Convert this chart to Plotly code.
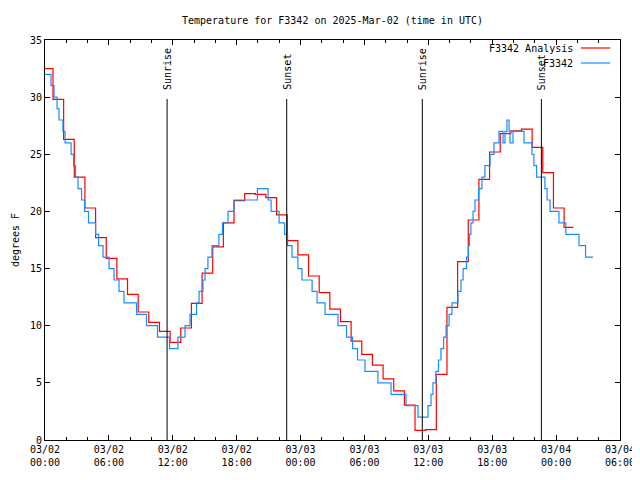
import pandas as pd
import plotly.graph_objects as go

# ---------------- data ----------------
title_text = "Temperature for F3342 on 2025-Mar-02 (time in UTC)"
base_time = pd.Timestamp("2025-03-02 00:00")

# Analysis: hourly values (hour 0 .. hour 49), each valid from HH-1:45
analysis_name = "F3342 Analysis"
analysis_values = [
    32.5, 29.8, 26.3, 23.0, 20.3, 17.7, 15.9, 14.1, 12.75, 11.2,
    10.3, 9.5, 8.55, 9.8, 11.95, 14.6, 16.9, 19.0, 20.95, 21.55,
    21.5, 21.2, 19.7, 17.45, 16.2, 14.35, 12.9, 11.45, 10.35, 8.65,
    7.5, 6.55, 5.35, 4.3, 3.05, 0.85, 0.9, 5.75, 11.6, 15.6,
    19.25, 22.8, 25.2, 26.8, 27.05, 27.2, 25.6, 23.4, 20.3, 18.6,
]
analysis_minutes = [0] + [(h - 1) * 60 + 45 for h in range(1, len(analysis_values))]
analysis_end_minute = 2976

# Observations: minutes after 2025-03-02 00:00 when the reading changed, and the reading
obs_name = "F3342"
obs_minutes = [
    0, 34, 51, 68, 79, 101, 113, 147, 161, 172, 186, 206, 223, 245, 285, 302,
    327, 361, 389, 417, 445, 516, 572, 634, 702, 749, 789, 817, 854, 868, 890,
    902, 918, 941, 980, 1000, 1031, 1065, 1197, 1257, 1274, 1319, 1350, 1367,
    1392, 1425, 1448, 1505, 1533, 1578, 1651, 1699, 1733, 1761, 1803, 1876,
    1950, 2034, 2102, 2158, 2175, 2186, 2203, 2217, 2231, 2246, 2260, 2277,
    2293, 2327, 2344, 2356, 2375, 2386, 2392, 2400, 2412, 2423, 2443, 2462,
    2479, 2508, 2530, 2558, 2581, 2592, 2603, 2615, 2620, 2637, 2699, 2744,
    2755, 2770, 2817, 2829, 2846, 2896, 2935, 3009, 3046, 3088,
]
obs_values = [
    32, 31, 30, 29, 28, 27, 26, 25, 24, 23, 22, 21, 20, 19, 18, 17,
    16, 15, 14, 13, 12, 11, 10, 9, 8, 9, 10, 11, 12, 13, 14,
    15, 16, 17, 18, 19, 20, 21, 22, 21, 20, 19, 18, 17,
    16, 15, 14, 13, 12, 11, 10, 9, 8, 7, 6, 5,
    4, 3, 2, 3, 4, 5, 6, 7, 8, 9, 10, 11,
    12, 13, 14, 15, 16, 17, 18, 19, 20, 21, 22, 23,
    24, 25, 26, 27, 26, 27, 28, 27, 26, 27, 26, 25,
    24, 23, 22, 21, 20, 19, 18, 17, 16, 16,
]

sun_labels = ["Sunrise", "Sunset", "Sunrise", "Sunset"]
sun_times = ["2025-03-02 11:28", "2025-03-02 22:42", "2025-03-03 11:26", "2025-03-03 22:37"]

x_tickvals = ["2025-03-02 00:00", "2025-03-02 06:00", "2025-03-02 12:00", "2025-03-02 18:00",
              "2025-03-03 00:00", "2025-03-03 06:00", "2025-03-03 12:00", "2025-03-03 18:00",
              "2025-03-04 00:00", "2025-03-04 06:00"]
x_ticktext = ["03/02<br>00:00", "03/02<br>06:00", "03/02<br>12:00", "03/02<br>18:00",
              "03/03<br>00:00", "03/03<br>06:00", "03/03<br>12:00", "03/03<br>18:00",
              "03/04<br>00:00", "03/04<br>06:00"]
y_label = "degrees F"

# ---------------- figure ----------------
FONT = "DejaVu Sans Mono"
RED = "#ff0000"
BLUE = "#1a8cff"
PAGE_OFFSET = 8  # default body margin of the html page
FIG_W, FIG_H = 640 - PAGE_OFFSET, 480 - PAGE_OFFSET

a_times = base_time + pd.to_timedelta(analysis_minutes + [analysis_end_minute], unit="m")
a_vals = analysis_values + [analysis_values[-1]]
o_times = base_time + pd.to_timedelta(obs_minutes, unit="m")

fig = go.Figure()
fig.add_trace(go.Scatter(x=a_times, y=a_vals, mode="lines", name=analysis_name,
                         line=dict(color=RED, width=1.2, shape="hv"), showlegend=False))
fig.add_trace(go.Scatter(x=o_times, y=obs_values, mode="lines", name=obs_name,
                         line=dict(color=BLUE, width=1.2, shape="hv"), showlegend=False))

for lab, t in zip(sun_labels, sun_times):
    fig.add_shape(type="line", xref="x", yref="paper", x0=t, x1=t, y0=0, y1=0.8525,
                  line=dict(color="black", width=1))
    fig.add_annotation(x=t, xref="x", y=0.87, yref="paper", text=lab, textangle=-90,
                       showarrow=False, xanchor="center", yanchor="bottom",
                       font=dict(family=FONT, size=10, color="black"))

# manual legend (gnuplot style: text then sample on the right)
for i, (nm, col) in enumerate([(analysis_name, RED), (obs_name, BLUE)]):
    yy = 0.98 - i * 0.0375
    fig.add_annotation(x=0.922, xref="paper", y=yy, yref="paper", text=nm, showarrow=False,
                       xanchor="right", yanchor="middle",
                       font=dict(family=FONT, size=10, color="black"))
    fig.add_shape(type="line", xref="paper", yref="paper", x0=0.932, x1=0.983, y0=yy, y1=yy,
                  line=dict(color=col, width=1.2))

fig.add_annotation(x=-0.052, xref="paper", y=0.5, yref="paper", text=y_label, textangle=-90,
                   showarrow=False, xanchor="center", yanchor="middle",
                   font=dict(family=FONT, size=10, color="black"))

fig.update_layout(
    width=FIG_W, height=FIG_H,
    margin=dict(l=45 - PAGE_OFFSET, r=20, t=40 - PAGE_OFFSET, b=40, autoexpand=False),
    paper_bgcolor="white", plot_bgcolor="white",
    font=dict(family=FONT, size=10, color="black"),
    title=dict(text=title_text, x=0.5, xref="paper", y=1 - (20 - PAGE_OFFSET) / FIG_H,
               yref="container", xanchor="center", yanchor="middle",
               font=dict(family=FONT, size=10, color="black")),
)
fig.update_xaxes(
    range=["2025-03-02 00:00", "2025-03-04 06:00"],
    tickvals=x_tickvals, ticktext=x_ticktext,
    ticks="inside", ticklen=5, tickcolor="black",
    minor=dict(dtick=2 * 3600000, ticks="inside", ticklen=3, tickcolor="black"),
    showline=True, linecolor="black", linewidth=1, mirror="ticks",
    showgrid=False, zeroline=False, automargin=False,
    tickfont=dict(family=FONT, size=10, color="black"),
)
fig.update_yaxes(
    range=[0, 35], dtick=5, tick0=0,
    ticks="inside", ticklen=5, tickcolor="black",
    showline=True, linecolor="black", linewidth=1, mirror="ticks",
    showgrid=False, zeroline=False, automargin=False,
    tickfont=dict(family=FONT, size=10, color="black"),
)

fig.write_html("out.html")
